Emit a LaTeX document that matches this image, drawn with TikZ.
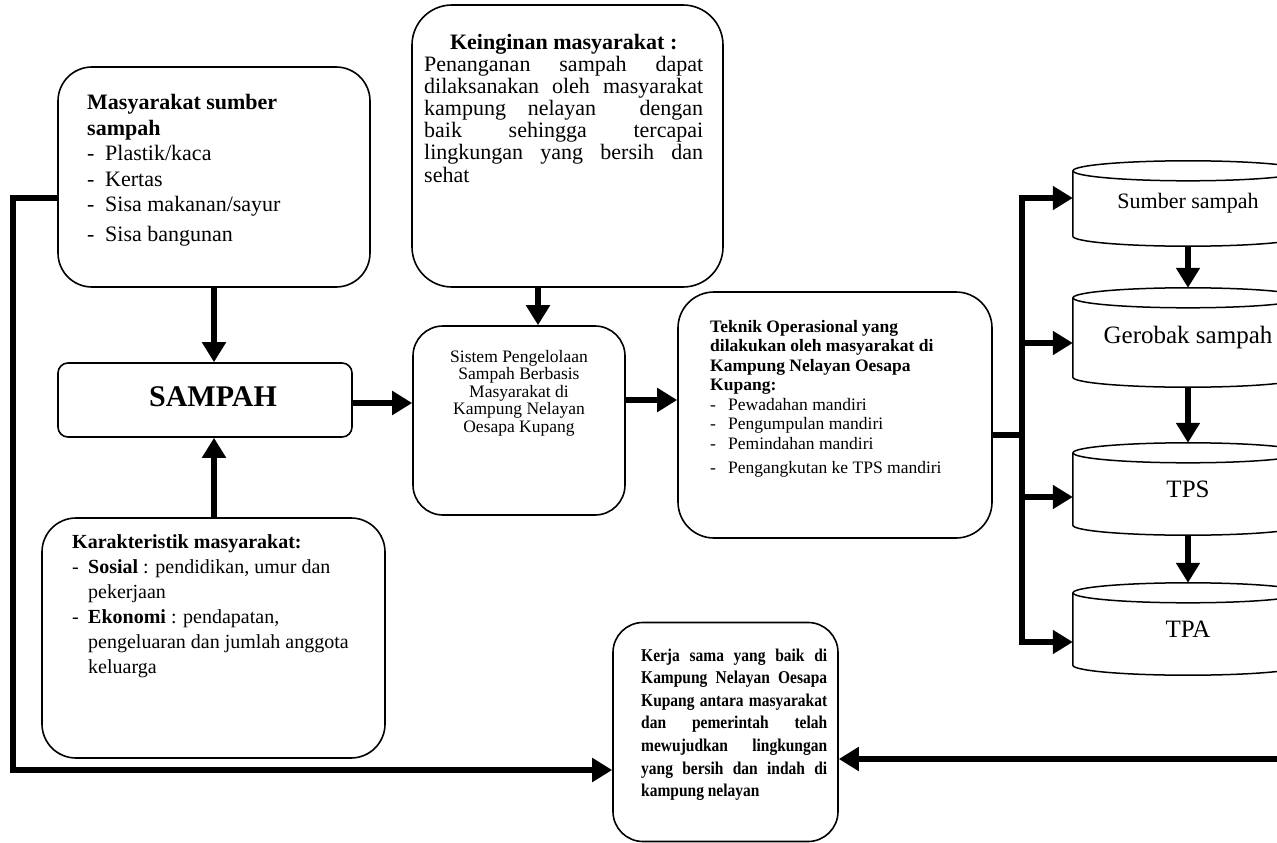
\documentclass[tikz,border=0pt]{standalone}
\usepackage{fontspec}
\setmainfont{Liberation Serif}
\newfontfamily\narrowserif[FakeStretch=0.86]{Liberation Serif}
\usetikzlibrary{arrows.meta}
\newcommand\bul[1]{\hbox to #1{-\hfil}}
\newcommand\cylout[1]{%
  \draw[line width=1.5pt] (#1.north west) -- (#1.south west)
    arc[start angle=180, end angle=0, x radius=115, y radius=10] -- (#1.north east);
  \draw[line width=1.5pt] (#1.north) ellipse[x radius=115, y radius=10];}
\begin{document}
\begin{tikzpicture}[x=1pt,y=-1pt,
  box/.style={draw, line width=1.6pt, rounded corners=#1, inner sep=0pt},
  box/.default=30pt,
  flow/.style={line width=6.5pt, line join=miter},
  arr/.style={flow, -{Triangle[length=20pt,width=23pt]}},
  txt/.style={inner sep=0pt, anchor=base west},
  cyl/.style={inner sep=0pt, minimum width=230pt}]
\useasboundingbox (0,0) rectangle (1277,843);
\clip (0,0) rectangle (1277,843);

% boxes
\node[box=34pt, minimum width=312pt, minimum height=220pt] (A) at (214,177) {};
\node[box=10pt, minimum width=294pt, minimum height=74pt] (S) at (205,400)
  {\hspace{16pt}\fontsize{30}{30}\selectfont\bfseries SAMPAH\vphantom{Sp}};
\node[box=40pt, minimum width=311pt, minimum height=282pt] (K) at (567.5,146) {};
\node[box=30pt, minimum width=212pt, minimum height=189pt] (P) at (519,420.5) {};
\node[box=36pt, minimum width=314pt, minimum height=246pt] (T) at (835,415) {};
\node[box=34pt, minimum width=343pt, minimum height=240pt] (C) at (213.5,638) {};
\node[box=30pt, minimum width=225pt, minimum height=219pt] (B) at (725.5,732) {};

% texts
\node[txt] (At) at (87,110) {\vtop{\fontsize{22}{25.5}\selectfont
  \hbox{\bfseries Masyarakat sumber}
  \hbox{\bfseries sampah}
  \hbox{\bul{18pt}Plastik/kaca}
  \hbox{\bul{18pt}Kertas}
  \hbox{\bul{18pt}Sisa makanan/sayur}
  \vskip4.5pt
  \hbox{\bul{18pt}Sisa bangunan}}};

\node[txt] (Kt) at (424,49) {\vtop{\fontsize{22}{22.2}\selectfont
  \hbox to 279pt{\hfil\bfseries Keinginan masyarakat :\hfil}
  \hbox to 279pt{Penanganan sampah dapat}
  \hbox to 279pt{dilaksanakan oleh masyarakat}
  \hbox to 279pt{kampung nelayan \ dengan}
  \hbox to 279pt{baik sehingga tercapai}
  \hbox to 279pt{lingkungan yang bersih dan}
  \hbox{sehat}}};

\node[txt, anchor=base] (Pt) at (519,362) {\vtop{\fontsize{17.5}{17.5}\selectfont
  \hbox to 212pt{\hfil Sistem Pengelolaan\hfil}
  \hbox to 212pt{\hfil Sampah Berbasis\hfil}
  \hbox to 212pt{\hfil Masyarakat di\hfil}
  \hbox to 212pt{\hfil Kampung Nelayan\hfil}
  \hbox to 212pt{\hfil Oesapa Kupang\hfil}}};

\node[txt] (Tt) at (710,332) {\vtop{\fontsize{17.5}{19.5}\selectfont
  \hbox{\bfseries Teknik Operasional yang}
  \hbox{\bfseries dilakukan oleh masyarakat di}
  \hbox{\bfseries Kampung Nelayan Oesapa}
  \hbox{\bfseries Kupang:}
  \hbox{\bul{18pt}Pewadahan mandiri}
  \hbox{\bul{18pt}Pengumpulan mandiri}
  \hbox{\bul{18pt}Pemindahan mandiri}
  \vskip5pt
  \hbox{\bul{18pt}Pengangkutan ke TPS mandiri}}};

\node[txt] (Ct) at (72,548) {\vtop{\fontsize{20}{25}\selectfont
  \hbox{\bfseries Karakteristik masyarakat:}
  \hbox{\bul{16pt}\textbf{Sosial} : pendidikan, umur dan}
  \hbox{\hskip16pt pekerjaan}
  \hbox{\bul{16pt}\textbf{Ekonomi} : pendapatan,}
  \hbox{\hskip16pt pengeluaran dan jumlah anggota}
  \hbox{\hskip16pt keluarga}}};

\node[txt] (Bt) at (641,661) {\vtop{\narrowserif\fontsize{18}{22.6}\selectfont\bfseries
  \hbox to 186pt{Kerja sama yang baik di}
  \hbox to 186pt{Kampung Nelayan Oesapa}
  \hbox to 186pt{Kupang antara masyarakat}
  \hbox to 186pt{dan pemerintah telah}
  \hbox to 186pt{mewujudkan lingkungan}
  \hbox to 186pt{yang bersih dan indah di}
  \hbox{kampung nelayan}}};

% cylinders
\node[cyl, minimum height=65pt] (c1) at (1188,203.5) {\fontsize{22}{22}\selectfont Sumber sampah};
\node[cyl, minimum height=79pt] (c2) at (1188,337.5) {\fontsize{25}{25}\selectfont Gerobak sampah};
\node[cyl, minimum height=72pt] (c3) at (1188,489) {\fontsize{25}{25}\selectfont TPS};
\node[cyl, minimum height=72pt] (c4) at (1188,629) {\fontsize{25}{25}\selectfont TPA};
\cylout{c1}\cylout{c2}\cylout{c3}\cylout{c4}

% helper coordinates
\coordinate (ax) at (538,0);
\coordinate (yS) at (0,403);
\coordinate (yP) at (0,400);
\coordinate (yJ) at (0,435);
\coordinate (J) at (1022,435);
\coordinate (J1) at (1022,198);
\coordinate (J2) at (1022,343);
\coordinate (J3) at (1022,497);
\coordinate (J4) at (1022,642);
\coordinate (L1) at (13,198);
\coordinate (L2) at (13,770);
\coordinate (R) at (1290,759);

% connectors
\draw[arr] (A.south) -- (A.south |- S.north);
\draw[arr] (C.north -| A.south) -- (A.south |- S.south);
\draw[arr] (K.south -| ax) -- (P.north -| ax);
\draw[arr] (S.east |- yS) -- (P.west |- yS);
\draw[arr] (P.east |- yP) -- (T.west |- yP);
\draw[flow] (T.east |- yJ) -- (J);
\draw[flow, line cap=rect] (J1) -- (J4);
\draw[arr] (J1) -- (c1.west |- J1);
\draw[arr] (J2) -- (c2.west |- J2);
\draw[arr] (J3) -- (c3.west |- J3);
\draw[arr] (J4) -- (c4.west |- J4);
\draw[arr] ([yshift=-10pt]c1.south) -- ([yshift=10pt]c2.north);
\draw[arr] ([yshift=-10pt]c2.south) -- ([yshift=10pt]c3.north);
\draw[arr] ([yshift=-10pt]c3.south) -- ([yshift=10pt]c4.north);
\draw[arr] (A.west |- L1) -- (L1) -- (L2) -- (B.west |- L2);
\draw[arr] (R) -- (B.east |- R);
\end{tikzpicture}
\end{document}
